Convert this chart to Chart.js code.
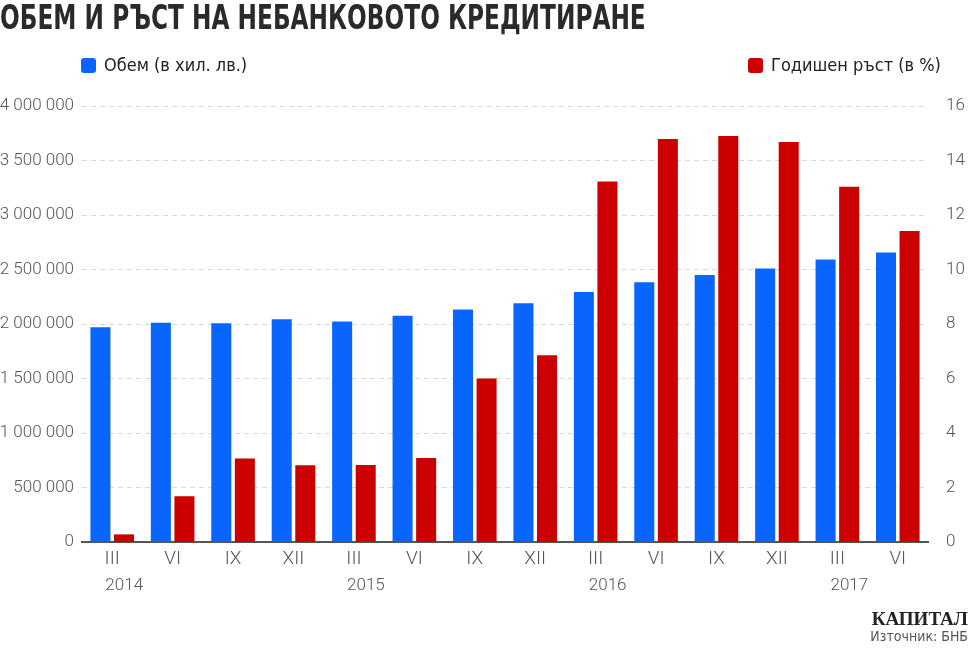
<!DOCTYPE html>
<html>
<head>
<meta charset="utf-8">
<script src="https://cdn.jsdelivr.net/npm/chart.js@4.4.0/dist/chart.umd.min.js"></script>
<style>
    html, body { margin: 0; padding: 0; background: #fff; }
    body { width: 969px; height: 648px; position: relative; overflow: hidden;
           font-family: 'DejaVu Sans Condensed', sans-serif; }
    #chartBox { position: absolute; left: 0; top: 0; width: 969px; height: 648px; }
    .title { position: absolute; left: 0; top: -3px; font-size: 34px; font-weight: bold; color: #2a2a2a;
             white-space: nowrap; transform: scaleX(0.76); transform-origin: left top; }
    .legend { position: absolute; top: 54px; font-size: 18px; color: #222; white-space: nowrap; }
    .legend span.box { display: inline-block; width: 15px; height: 15px; border-radius: 3px; vertical-align: -2px; margin-right: 8px; }
    .brand { position: absolute; right: 1px; top: 608px; font-family: 'Liberation Serif', serif; font-weight: bold; font-size: 19px; color: #222; }
    .source { position: absolute; right: 1px; top: 628px; font-size: 14px; color: #555; }
</style>
</head>
<body>
<div id="chartBox"><canvas id="volumeChart"></canvas></div>
<div class="title">ОБЕМ И РЪСТ НА НЕБАНКОВОТО КРЕДИТИРАНЕ</div>
<div class="legend" style="left:81px"><span class="box" style="background:#0866ff"></span>Обем (в хил. лв.)</div>
<div class="legend" style="left:748px"><span class="box" style="background:#cc0000"></span>Годишен ръст (в %)</div>
<div class="brand">КАПИТАЛ</div>
<div class="source">Източник: БНБ</div>

<script>
// === Data ===
const quarters = ['III', 'VI', 'IX', 'XII', 'III', 'VI', 'IX', 'XII', 'III', 'VI', 'IX', 'XII', 'III', 'VI'];
const years = ['2014', '', '', '', '2015', '', '', '', '2016', '', '', '', '2017', ''];
const volume = [1970000, 2011000, 2008000, 2044000, 2023000, 2075000, 2132000, 2190000, 2294000, 2383000, 2450000, 2509000, 2592000, 2656000];
const growth = [0.28, 1.68, 3.06, 2.82, 2.83, 3.08, 6.0, 6.85, 13.23, 14.79, 14.9, 14.68, 13.04, 11.41];
const leftTicks = [0, 500000, 1000000, 1500000, 2000000, 2500000, 3000000, 3500000, 4000000];
const rightTicks = [0, 2, 4, 6, 8, 10, 12, 14, 16];

const fontFamily = "Roboto, 'DejaVu Sans Condensed', sans-serif";
const tickFont = { family: fontFamily, size: 17, weight: '300' };
const tickColor = '#555';

function formatSpaced(v) {
    return String(v).replace(/\B(?=(\d{3})+(?!\d))/g, ' ');
}

// years under the quarter labels
const yearLabels = {
    id: 'yearLabels',
    afterDraw(chart) {
        const ctx = chart.ctx;
        const xScale = chart.scales.x;
        ctx.save();
        ctx.font = `300 17px ${fontFamily}`;
        ctx.fillStyle = tickColor;
        ctx.textAlign = 'center';
        ctx.textBaseline = 'middle';
        years.forEach((y, i) => {
            if (y) ctx.fillText(y, xScale.getPixelForValue(i) + 12, chart.chartArea.bottom + 44);
        });
        ctx.restore();
    }
};

const ctx = document.getElementById('volumeChart').getContext('2d');
new Chart(ctx, {
    type: 'bar',
    data: {
        labels: quarters,
        datasets: [{
            label: 'Обем (в хил. лв.)',
            data: volume,
            yAxisID: 'y',
            backgroundColor: '#0866ff',
            categoryPercentage: 0.78,
            barPercentage: 0.85
        }, {
            label: 'Годишен ръст (в %)',
            data: growth,
            yAxisID: 'y1',
            backgroundColor: '#cc0000',
            categoryPercentage: 0.78,
            barPercentage: 0.85
        }]
    },
    options: {
        responsive: true,
        maintainAspectRatio: false,
        animation: false,
        layout: { padding: { top: 106, left: 0, right: 0, bottom: 0 } },
        plugins: {
            legend: { display: false },
            tooltip: { enabled: false }
        },
        scales: {
            x: {
                grid: { display: false, drawTicks: false },
                border: { color: '#555', width: 2 },
                ticks: { color: tickColor, font: { family: fontFamily, size: 19, weight: '300' }, padding: 6, maxRotation: 0, autoSkip: false },
                afterFit(scale) { scale.height = 106; }
            },
            y: {
                position: 'left',
                min: 0,
                max: 4000000,
                afterBuildTicks(scale) { scale.ticks = leftTicks.map(v => ({ value: v })); },
                grid: { color: '#d9d9d9', drawTicks: false, lineWidth: 1 },
                border: { display: false, dash: [5, 4] },
                ticks: { color: tickColor, font: tickFont, padding: 8, callback: v => formatSpaced(v) },
                afterFit(scale) { scale.width = 82; }
            },
            y1: {
                position: 'right',
                min: 0,
                max: 16,
                afterBuildTicks(scale) { scale.ticks = rightTicks.map(v => ({ value: v })); },
                grid: { display: false, drawTicks: false },
                border: { display: false },
                ticks: { color: tickColor, font: tickFont, padding: 18 },
                afterFit(scale) { scale.width = 41; }
            }
        }
    },
    plugins: [yearLabels]
});
</script>
</body>
</html>
